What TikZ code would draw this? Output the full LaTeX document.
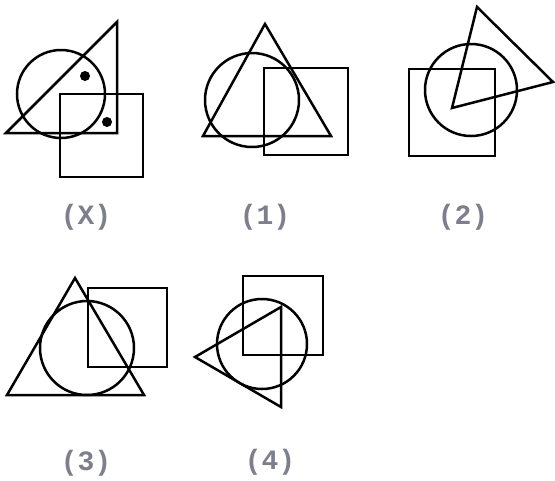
\documentclass[tikz,border=0pt]{standalone}
\usepackage{fontspec}
\newfontfamily\lblfont{Liberation Mono}
\definecolor{lblgray}{RGB}{125,128,140}
\tikzset{
  fig/.style={line width=2.5pt, line join=miter},
  lbl/.style={font=\lblfont\bfseries\fontsize{28}{32}\selectfont, text=lblgray}
}

\begin{document}
\begin{tikzpicture}[x=1pt,y=-1pt]
  \useasboundingbox (0,0) rectangle (555,480);

  % (X)
  \draw[fig] (117,22) -- (6,133) -- (117,133) -- cycle;
  \draw[fig] (61,94) circle (44);
  \draw[fig] (60,94) rectangle (143,177);
  \fill (85,76) circle (5);
  \fill (107,122) circle (5);
  \node[lbl] (lblX) at (86,217) {(X)};

  % (1)
  \draw[fig] (265,24) -- (203,136) -- (331,136) -- cycle;
  \draw[fig] (252,100) circle (47);
  \draw[fig] (264,68) rectangle (348,155);
  \node[lbl] (lbl1) at (265,217) {(1)};

  % (2)
  \draw[fig] (409,69) rectangle (495,156);
  \draw[fig] (471,90) circle (46);
  \draw[fig] (477,7) -- (553,82) -- (452,108) -- cycle;
  \node[lbl] (lbl2) at (463,217) {(2)};

  % (3)
  \draw[fig] (75,278) -- (7,395) -- (144,395) -- cycle;
  \draw[fig] (87,348) circle (47);
  \draw[fig] (88,288) rectangle (167,367);
  \node[lbl] (lbl3) at (86,463) {(3)};

  % (4)
  \draw[fig] (243,276) rectangle (323,355);
  \draw[fig] (262,344) circle (45);
  \draw[fig] (195,357) -- (281,307) -- (281,407) -- cycle;
  \node[lbl] (lbl4) at (270,462) {(4)};

\end{tikzpicture}
\end{document}
